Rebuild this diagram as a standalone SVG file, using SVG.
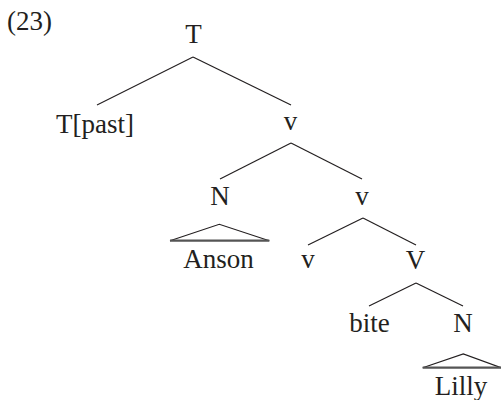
<svg xmlns="http://www.w3.org/2000/svg" width="501" height="400" viewBox="0 0 501 400">
<style>
text{font-family:"Liberation Serif","Times New Roman",serif;font-size:27px;fill:#231f20;text-anchor:middle}
.e{stroke:#231f20;stroke-width:1.2;fill:none}
.tri{stroke:#231f20;stroke-width:1.2;fill:none;stroke-linejoin:miter}
.base{stroke:#555;stroke-width:2.2}
</style>
<rect width="501" height="400" fill="#fff"/>
<text x="7" y="30" style="text-anchor:start">(23)</text>
<g id="connectors">
<line class="e" x1="193" y1="57" x2="97" y2="105"/>
<line class="e" x1="193" y1="57" x2="291" y2="105"/>
<line class="e" x1="291" y1="143" x2="220" y2="179"/>
<line class="e" x1="291" y1="143" x2="362" y2="179"/>
<line class="e" x1="363" y1="218" x2="308" y2="245"/>
<line class="e" x1="363" y1="218" x2="416" y2="245"/>
<line class="e" x1="416" y1="283" x2="369" y2="306"/>
<line class="e" x1="416" y1="283" x2="463" y2="306"/>
</g>
<g id="T"><text x="193.5" y="43">T</text></g>
<g id="Tpast"><text x="95" y="133">T[past]</text></g>
<g id="v1"><text x="290.5" y="130">v</text></g>
<g id="N1"><text x="220" y="205">N</text></g>
<g id="v2"><text x="362" y="205">v</text></g>
<g id="Anson">
<polyline class="tri" points="170,240.7 219.3,224.3 269.3,240.7"/>
<line class="base" x1="170" y1="240.7" x2="269.3" y2="240.7"/>
<text x="218.5" y="268">Anson</text>
</g>
<g id="v3"><text x="308" y="268">v</text></g>
<g id="V"><text x="415.5" y="269">V</text></g>
<g id="bite"><text x="369.5" y="331.5">bite</text></g>
<g id="N2"><text x="463" y="331.5">N</text></g>
<g id="Lilly">
<polyline class="tri" points="422.7,367.7 463.3,354 501,367.7"/>
<line class="base" x1="422.7" y1="367.7" x2="501" y2="367.7"/>
<text x="461" y="395">Lilly</text>
</g>
</svg>
